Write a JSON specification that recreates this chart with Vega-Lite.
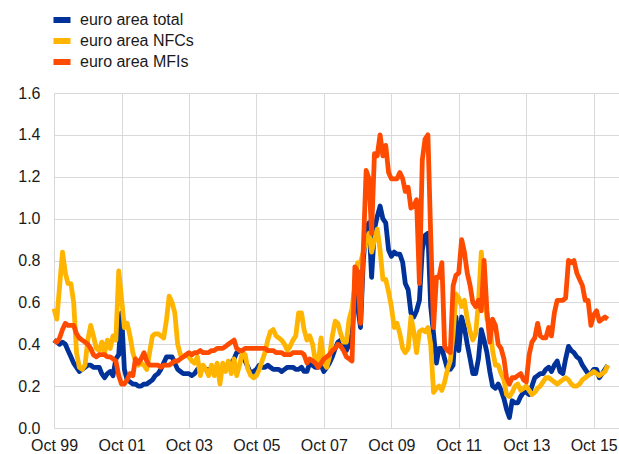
{
  "$schema": "https://vega.github.io/schema/vega-lite/v6.json",
  "width": 565,
  "height": 335,
  "autosize": {"type": "none"},
  "padding": {"left": 54, "top": 93, "right": 0, "bottom": 26},
  "background": "white",
  "config": {"view": {"stroke": null}, "font": "Liberation Sans"},
  "data": {
    "format": {"parse": {"date": "date:'%Y-%m'"}},
    "values": [
      {"date":"1999-10","total":0.42,"NFCs":0.57,"MFIs":0.42},
      {"date":"1999-11","total":0.41,"NFCs":0.52,"MFIs":0.41},
      {"date":"1999-12","total":0.40,"NFCs":0.68,"MFIs":0.43},
      {"date":"2000-01","total":0.41,"NFCs":0.84,"MFIs":0.47},
      {"date":"2000-02","total":0.40,"NFCs":0.74,"MFIs":0.50},
      {"date":"2000-03","total":0.37,"NFCs":0.69,"MFIs":0.49},
      {"date":"2000-04","total":0.34,"NFCs":0.69,"MFIs":0.49},
      {"date":"2000-05","total":0.31,"NFCs":0.60,"MFIs":0.49},
      {"date":"2000-06","total":0.29,"NFCs":0.36,"MFIs":0.45},
      {"date":"2000-07","total":0.27,"NFCs":0.29,"MFIs":0.43},
      {"date":"2000-08","total":0.28,"NFCs":0.28,"MFIs":0.42},
      {"date":"2000-09","total":0.29,"NFCs":0.30,"MFIs":0.41},
      {"date":"2000-10","total":0.30,"NFCs":0.42,"MFIs":0.40},
      {"date":"2000-11","total":0.30,"NFCs":0.49,"MFIs":0.38},
      {"date":"2000-12","total":0.29,"NFCs":0.44,"MFIs":0.35},
      {"date":"2001-01","total":0.29,"NFCs":0.38,"MFIs":0.34},
      {"date":"2001-02","total":0.29,"NFCs":0.37,"MFIs":0.35},
      {"date":"2001-03","total":0.26,"NFCs":0.41,"MFIs":0.35},
      {"date":"2001-04","total":0.24,"NFCs":0.36,"MFIs":0.35},
      {"date":"2001-05","total":0.26,"NFCs":0.42,"MFIs":0.34},
      {"date":"2001-06","total":0.27,"NFCs":0.38,"MFIs":0.34},
      {"date":"2001-07","total":0.25,"NFCs":0.44,"MFIs":0.33},
      {"date":"2001-08","total":0.33,"NFCs":0.42,"MFIs":0.32},
      {"date":"2001-09","total":0.35,"NFCs":0.75,"MFIs":0.25},
      {"date":"2001-10","total":0.55,"NFCs":0.62,"MFIs":0.21},
      {"date":"2001-11","total":0.28,"NFCs":0.48,"MFIs":0.21},
      {"date":"2001-12","total":0.23,"NFCs":0.50,"MFIs":0.23},
      {"date":"2002-01","total":0.22,"NFCs":0.44,"MFIs":0.26},
      {"date":"2002-02","total":0.21,"NFCs":0.36,"MFIs":0.25},
      {"date":"2002-03","total":0.21,"NFCs":0.32,"MFIs":0.33},
      {"date":"2002-04","total":0.20,"NFCs":0.30,"MFIs":0.31},
      {"date":"2002-05","total":0.20,"NFCs":0.31,"MFIs":0.33},
      {"date":"2002-06","total":0.21,"NFCs":0.30,"MFIs":0.36},
      {"date":"2002-07","total":0.21,"NFCs":0.28,"MFIs":0.32},
      {"date":"2002-08","total":0.22,"NFCs":0.36,"MFIs":0.30},
      {"date":"2002-09","total":0.23,"NFCs":0.44,"MFIs":0.30},
      {"date":"2002-10","total":0.25,"NFCs":0.45,"MFIs":0.30},
      {"date":"2002-11","total":0.26,"NFCs":0.45,"MFIs":0.30},
      {"date":"2002-12","total":0.28,"NFCs":0.44,"MFIs":0.29},
      {"date":"2003-01","total":0.31,"NFCs":0.43,"MFIs":0.30},
      {"date":"2003-02","total":0.34,"NFCs":0.52,"MFIs":0.30},
      {"date":"2003-03","total":0.34,"NFCs":0.63,"MFIs":0.30},
      {"date":"2003-04","total":0.34,"NFCs":0.60,"MFIs":0.31},
      {"date":"2003-05","total":0.31,"NFCs":0.55,"MFIs":0.32},
      {"date":"2003-06","total":0.28,"NFCs":0.40,"MFIs":0.32},
      {"date":"2003-07","total":0.27,"NFCs":0.35,"MFIs":0.33},
      {"date":"2003-08","total":0.26,"NFCs":0.34,"MFIs":0.34},
      {"date":"2003-09","total":0.26,"NFCs":0.35,"MFIs":0.35},
      {"date":"2003-10","total":0.26,"NFCs":0.34,"MFIs":0.36},
      {"date":"2003-11","total":0.25,"NFCs":0.32,"MFIs":0.35},
      {"date":"2003-12","total":0.26,"NFCs":0.31,"MFIs":0.36},
      {"date":"2004-01","total":0.28,"NFCs":0.34,"MFIs":0.36},
      {"date":"2004-02","total":0.29,"NFCs":0.25,"MFIs":0.37},
      {"date":"2004-03","total":0.29,"NFCs":0.30,"MFIs":0.36},
      {"date":"2004-04","total":0.28,"NFCs":0.28,"MFIs":0.36},
      {"date":"2004-05","total":0.28,"NFCs":0.25,"MFIs":0.36},
      {"date":"2004-06","total":0.28,"NFCs":0.30,"MFIs":0.37},
      {"date":"2004-07","total":0.27,"NFCs":0.25,"MFIs":0.37},
      {"date":"2004-08","total":0.26,"NFCs":0.31,"MFIs":0.38},
      {"date":"2004-09","total":0.28,"NFCs":0.21,"MFIs":0.38},
      {"date":"2004-10","total":0.28,"NFCs":0.31,"MFIs":0.38},
      {"date":"2004-11","total":0.29,"NFCs":0.27,"MFIs":0.39},
      {"date":"2004-12","total":0.29,"NFCs":0.32,"MFIs":0.40},
      {"date":"2005-01","total":0.31,"NFCs":0.26,"MFIs":0.41},
      {"date":"2005-02","total":0.33,"NFCs":0.33,"MFIs":0.42},
      {"date":"2005-03","total":0.36,"NFCs":0.25,"MFIs":0.38},
      {"date":"2005-04","total":0.37,"NFCs":0.30,"MFIs":0.37},
      {"date":"2005-05","total":0.36,"NFCs":0.36,"MFIs":0.37},
      {"date":"2005-06","total":0.32,"NFCs":0.35,"MFIs":0.38},
      {"date":"2005-07","total":0.29,"NFCs":0.28,"MFIs":0.38},
      {"date":"2005-08","total":0.26,"NFCs":0.25,"MFIs":0.38},
      {"date":"2005-09","total":0.27,"NFCs":0.24,"MFIs":0.38},
      {"date":"2005-10","total":0.28,"NFCs":0.25,"MFIs":0.38},
      {"date":"2005-11","total":0.30,"NFCs":0.28,"MFIs":0.38},
      {"date":"2005-12","total":0.29,"NFCs":0.32,"MFIs":0.38},
      {"date":"2006-01","total":0.29,"NFCs":0.36,"MFIs":0.38},
      {"date":"2006-02","total":0.30,"NFCs":0.42,"MFIs":0.37},
      {"date":"2006-03","total":0.29,"NFCs":0.46,"MFIs":0.37},
      {"date":"2006-04","total":0.28,"NFCs":0.47,"MFIs":0.37},
      {"date":"2006-05","total":0.28,"NFCs":0.44,"MFIs":0.36},
      {"date":"2006-06","total":0.28,"NFCs":0.43,"MFIs":0.36},
      {"date":"2006-07","total":0.27,"NFCs":0.42,"MFIs":0.36},
      {"date":"2006-08","total":0.28,"NFCs":0.40,"MFIs":0.35},
      {"date":"2006-09","total":0.29,"NFCs":0.37,"MFIs":0.35},
      {"date":"2006-10","total":0.29,"NFCs":0.39,"MFIs":0.35},
      {"date":"2006-11","total":0.29,"NFCs":0.42,"MFIs":0.36},
      {"date":"2006-12","total":0.28,"NFCs":0.44,"MFIs":0.36},
      {"date":"2007-01","total":0.28,"NFCs":0.55,"MFIs":0.36},
      {"date":"2007-02","total":0.29,"NFCs":0.55,"MFIs":0.36},
      {"date":"2007-03","total":0.27,"NFCs":0.47,"MFIs":0.35},
      {"date":"2007-04","total":0.27,"NFCs":0.42,"MFIs":0.31},
      {"date":"2007-05","total":0.31,"NFCs":0.44,"MFIs":0.33},
      {"date":"2007-06","total":0.30,"NFCs":0.40,"MFIs":0.32},
      {"date":"2007-07","total":0.29,"NFCs":0.32,"MFIs":0.31},
      {"date":"2007-08","total":0.29,"NFCs":0.31,"MFIs":0.29},
      {"date":"2007-09","total":0.30,"NFCs":0.43,"MFIs":0.31},
      {"date":"2007-10","total":0.27,"NFCs":0.31,"MFIs":0.33},
      {"date":"2007-11","total":0.29,"NFCs":0.29,"MFIs":0.34},
      {"date":"2007-12","total":0.31,"NFCs":0.34,"MFIs":0.35},
      {"date":"2008-01","total":0.34,"NFCs":0.44,"MFIs":0.37},
      {"date":"2008-02","total":0.38,"NFCs":0.51,"MFIs":0.38},
      {"date":"2008-03","total":0.41,"NFCs":0.50,"MFIs":0.40},
      {"date":"2008-04","total":0.42,"NFCs":0.45,"MFIs":0.39},
      {"date":"2008-05","total":0.40,"NFCs":0.41,"MFIs":0.37},
      {"date":"2008-06","total":0.37,"NFCs":0.41,"MFIs":0.34},
      {"date":"2008-07","total":0.40,"NFCs":0.52,"MFIs":0.33},
      {"date":"2008-08","total":0.45,"NFCs":0.57,"MFIs":0.32},
      {"date":"2008-09","total":0.65,"NFCs":0.68,"MFIs":0.77},
      {"date":"2008-10","total":0.58,"NFCs":0.79,"MFIs":0.75},
      {"date":"2008-11","total":0.48,"NFCs":0.79,"MFIs":0.50},
      {"date":"2008-12","total":0.80,"NFCs":0.84,"MFIs":0.85},
      {"date":"2009-01","total":0.95,"NFCs":0.90,"MFIs":1.23},
      {"date":"2009-02","total":0.98,"NFCs":0.93,"MFIs":1.19},
      {"date":"2009-03","total":0.72,"NFCs":0.84,"MFIs":0.93},
      {"date":"2009-04","total":0.95,"NFCs":0.90,"MFIs":1.31},
      {"date":"2009-05","total":1.01,"NFCs":0.95,"MFIs":1.30},
      {"date":"2009-06","total":1.06,"NFCs":0.85,"MFIs":1.40},
      {"date":"2009-07","total":1.00,"NFCs":0.71,"MFIs":1.30},
      {"date":"2009-08","total":0.98,"NFCs":0.71,"MFIs":1.35},
      {"date":"2009-09","total":0.85,"NFCs":0.65,"MFIs":1.22},
      {"date":"2009-10","total":0.82,"NFCs":0.58,"MFIs":1.19},
      {"date":"2009-11","total":0.84,"NFCs":0.48,"MFIs":1.19},
      {"date":"2009-12","total":0.83,"NFCs":0.50,"MFIs":1.19},
      {"date":"2010-01","total":0.83,"NFCs":0.45,"MFIs":1.22},
      {"date":"2010-02","total":0.79,"NFCs":0.38,"MFIs":1.19},
      {"date":"2010-03","total":0.69,"NFCs":0.36,"MFIs":1.13},
      {"date":"2010-04","total":0.66,"NFCs":0.38,"MFIs":1.15},
      {"date":"2010-05","total":0.55,"NFCs":0.53,"MFIs":1.05},
      {"date":"2010-06","total":0.53,"NFCs":0.46,"MFIs":1.06},
      {"date":"2010-07","total":0.56,"NFCs":0.36,"MFIs":1.09},
      {"date":"2010-08","total":0.61,"NFCs":0.46,"MFIs":0.69},
      {"date":"2010-09","total":0.85,"NFCs":0.47,"MFIs":1.28},
      {"date":"2010-10","total":0.92,"NFCs":0.46,"MFIs":1.38},
      {"date":"2010-11","total":0.93,"NFCs":0.48,"MFIs":1.40},
      {"date":"2010-12","total":0.58,"NFCs":0.40,"MFIs":0.92},
      {"date":"2011-01","total":0.45,"NFCs":0.17,"MFIs":0.48},
      {"date":"2011-02","total":0.31,"NFCs":0.19,"MFIs":0.72},
      {"date":"2011-03","total":0.38,"NFCs":0.20,"MFIs":0.72},
      {"date":"2011-04","total":0.38,"NFCs":0.18,"MFIs":0.79},
      {"date":"2011-05","total":0.33,"NFCs":0.22,"MFIs":0.39},
      {"date":"2011-06","total":0.28,"NFCs":0.28,"MFIs":0.37},
      {"date":"2011-07","total":0.28,"NFCs":0.32,"MFIs":0.36},
      {"date":"2011-08","total":0.30,"NFCs":0.45,"MFIs":0.68},
      {"date":"2011-09","total":0.53,"NFCs":0.64,"MFIs":0.73},
      {"date":"2011-10","total":0.37,"NFCs":0.62,"MFIs":0.74},
      {"date":"2011-11","total":0.53,"NFCs":0.58,"MFIs":0.90},
      {"date":"2011-12","total":0.48,"NFCs":0.61,"MFIs":0.84},
      {"date":"2012-01","total":0.40,"NFCs":0.52,"MFIs":0.74},
      {"date":"2012-02","total":0.33,"NFCs":0.46,"MFIs":0.68},
      {"date":"2012-03","total":0.26,"NFCs":0.42,"MFIs":0.60},
      {"date":"2012-04","total":0.26,"NFCs":0.45,"MFIs":0.58},
      {"date":"2012-05","total":0.33,"NFCs":0.60,"MFIs":0.61},
      {"date":"2012-06","total":0.47,"NFCs":0.84,"MFIs":0.56},
      {"date":"2012-07","total":0.42,"NFCs":0.68,"MFIs":0.80},
      {"date":"2012-08","total":0.36,"NFCs":0.52,"MFIs":0.56},
      {"date":"2012-09","total":0.27,"NFCs":0.50,"MFIs":0.41},
      {"date":"2012-10","total":0.20,"NFCs":0.37,"MFIs":0.52},
      {"date":"2012-11","total":0.19,"NFCs":0.30,"MFIs":0.49},
      {"date":"2012-12","total":0.21,"NFCs":0.30,"MFIs":0.40},
      {"date":"2013-01","total":0.18,"NFCs":0.26,"MFIs":0.38},
      {"date":"2013-02","total":0.14,"NFCs":0.23,"MFIs":0.33},
      {"date":"2013-03","total":0.09,"NFCs":0.16,"MFIs":0.24},
      {"date":"2013-04","total":0.05,"NFCs":0.15,"MFIs":0.21},
      {"date":"2013-05","total":0.13,"NFCs":0.17,"MFIs":0.24},
      {"date":"2013-06","total":0.12,"NFCs":0.20,"MFIs":0.24},
      {"date":"2013-07","total":0.12,"NFCs":0.21,"MFIs":0.25},
      {"date":"2013-08","total":0.15,"NFCs":0.18,"MFIs":0.26},
      {"date":"2013-09","total":0.17,"NFCs":0.19,"MFIs":0.23},
      {"date":"2013-10","total":0.17,"NFCs":0.20,"MFIs":0.22},
      {"date":"2013-11","total":0.16,"NFCs":0.18,"MFIs":0.35},
      {"date":"2013-12","total":0.20,"NFCs":0.16,"MFIs":0.41},
      {"date":"2014-01","total":0.24,"NFCs":0.17,"MFIs":0.43},
      {"date":"2014-02","total":0.25,"NFCs":0.19,"MFIs":0.50},
      {"date":"2014-03","total":0.26,"NFCs":0.20,"MFIs":0.44},
      {"date":"2014-04","total":0.26,"NFCs":0.22,"MFIs":0.43},
      {"date":"2014-05","total":0.28,"NFCs":0.24,"MFIs":0.43},
      {"date":"2014-06","total":0.29,"NFCs":0.24,"MFIs":0.48},
      {"date":"2014-07","total":0.27,"NFCs":0.23,"MFIs":0.44},
      {"date":"2014-08","total":0.30,"NFCs":0.22,"MFIs":0.55},
      {"date":"2014-09","total":0.32,"NFCs":0.21,"MFIs":0.61},
      {"date":"2014-10","total":0.27,"NFCs":0.22,"MFIs":0.61},
      {"date":"2014-11","total":0.26,"NFCs":0.23,"MFIs":0.61},
      {"date":"2014-12","total":0.33,"NFCs":0.24,"MFIs":0.62},
      {"date":"2015-01","total":0.39,"NFCs":0.23,"MFIs":0.80},
      {"date":"2015-02","total":0.37,"NFCs":0.21,"MFIs":0.79},
      {"date":"2015-03","total":0.36,"NFCs":0.20,"MFIs":0.80},
      {"date":"2015-04","total":0.34,"NFCs":0.20,"MFIs":0.74},
      {"date":"2015-05","total":0.33,"NFCs":0.21,"MFIs":0.71},
      {"date":"2015-06","total":0.30,"NFCs":0.23,"MFIs":0.68},
      {"date":"2015-07","total":0.28,"NFCs":0.24,"MFIs":0.61},
      {"date":"2015-08","total":0.26,"NFCs":0.25,"MFIs":0.61},
      {"date":"2015-09","total":0.26,"NFCs":0.26,"MFIs":0.49},
      {"date":"2015-10","total":0.28,"NFCs":0.27,"MFIs":0.54},
      {"date":"2015-11","total":0.28,"NFCs":0.26,"MFIs":0.56},
      {"date":"2015-12","total":0.24,"NFCs":0.25,"MFIs":0.51},
      {"date":"2016-01","total":0.26,"NFCs":0.26,"MFIs":0.52},
      {"date":"2016-02","total":0.28,"NFCs":0.27,"MFIs":0.53},
      {"date":"2016-03","total":0.30,"NFCs":0.30,"MFIs":0.52}
    ]
  },
  "transform": [{"fold": ["total", "NFCs", "MFIs"], "as": ["series", "value"]}],
  "mark": {"type": "line", "strokeWidth": 4.8, "strokeJoin": "round"},
  "encoding": {
    "x": {
      "field": "date",
      "type": "temporal",
      "scale": {"domain": [{"year": 1999, "month": 10, "date": 1}, {"year": 2016, "month": 7, "date": 1}]},
      "axis": {
        "title": null,
        "values": [
          {"year": 1999, "month": 10, "date": 1},
          {"year": 2001, "month": 10, "date": 1},
          {"year": 2003, "month": 10, "date": 1},
          {"year": 2005, "month": 10, "date": 1},
          {"year": 2007, "month": 10, "date": 1},
          {"year": 2009, "month": 10, "date": 1},
          {"year": 2011, "month": 10, "date": 1},
          {"year": 2013, "month": 10, "date": 1},
          {"year": 2015, "month": 10, "date": 1}
        ],
        "format": "%b %y",
        "labelOverlap": false,
        "labelBound": false,
        "labelFlush": false,
        "domain": false,
        "ticks": false,
        "grid": true,
        "gridColor": "#d9d9d9",
        "gridWidth": 1,
        "labelFontSize": 16,
        "labelColor": "#1a1a1a",
        "labelPadding": 9,
        "labelFont": "Liberation Sans"
      }
    },
    "y": {
      "field": "value",
      "type": "quantitative",
      "scale": {"domain": [0, 1.6], "nice": false},
      "axis": {
        "title": null,
        "values": [0, 0.2, 0.4, 0.6, 0.8, 1.0, 1.2, 1.4, 1.6],
        "format": ".1f",
        "labelOverlap": false,
        "labelFlush": false,
        "domain": false,
        "ticks": false,
        "grid": true,
        "gridColor": "#d9d9d9",
        "gridWidth": 1,
        "labelFontSize": 16,
        "labelColor": "#1a1a1a",
        "labelPadding": 14,
        "labelFont": "Liberation Sans"
      }
    },
    "color": {
      "field": "series",
      "type": "nominal",
      "sort": ["total", "NFCs", "MFIs"],
      "scale": {"domain": ["total", "NFCs", "MFIs"], "range": ["#003299", "#FFB400", "#FF4B00"]},
      "legend": {
        "title": null,
        "orient": "none",
        "legendX": -1,
        "legendY": -82,
        "padding": 0,
        "symbolType": "M-1.42,0H1.42",
        "symbolSize": 144,
        "symbolStrokeWidth": 6,
        "symbolStrokeCap": "butt",
        "labelFontSize": 16,
        "labelFont": "Liberation Sans",
        "labelColor": "#1a1a1a",
        "labelOffset": 9,
        "rowPadding": -3,
        "labelExpr": "'euro area ' + datum.label"
      }
    }
  }
}
